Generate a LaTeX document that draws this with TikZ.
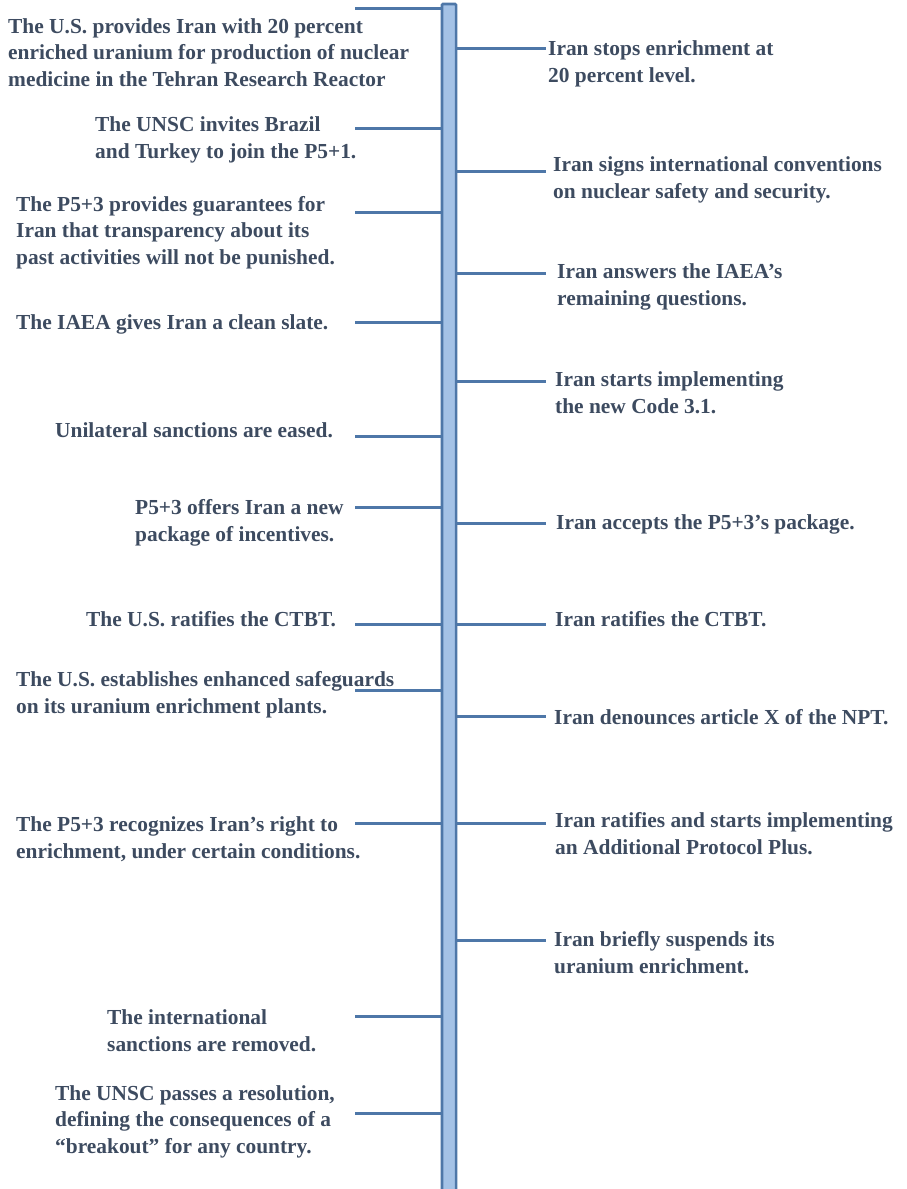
\documentclass[tikz,border=0pt]{standalone}
\usepackage{fontspec}
\setmainfont{Liberation Serif}
\definecolor{txt}{HTML}{3D4B60}
\definecolor{ln}{HTML}{4E77A8}
\definecolor{barfill}{HTML}{A4C2E6}
\begin{document}
\begin{tikzpicture}[x=1pt,y=-1pt,
  lbl/.style={anchor=base west,align=left,inner sep=0pt,text=txt,
    font=\bfseries\fontsize{21.4}{26.5}\selectfont},
  tick/.style={draw=ln,line width=3pt}]
\useasboundingbox (0,0) rectangle (907,1189);
\node[draw=ln,line width=2.6pt,fill=barfill,minimum width=11.5pt,minimum height=1200pt,
  anchor=north,inner sep=0pt,rounded corners=1pt] (bar) at (449,4) {};
% left ticks
\foreach \n/\y in {a/8,b/128,c/212,d/322,e/436,f/507,g/624,h/690,i/823,j/1016,k/1113}{
  \coordinate (l\n) at (355,\y);
  \draw[tick] (l\n) -- (l\n -| bar.west);
}
% right ticks
\foreach \n/\y in {a/48,b/171,c/273,d/381,e/523,f/624,g/716,h/823,i/940}{
  \coordinate (r\n) at (546,\y);
  \draw[tick] (r\n -| bar.east) -- (r\n);
}
% redraw bar on top
\draw[draw=ln,line width=2.6pt,fill=barfill,rounded corners=1pt] (bar.north west) rectangle (bar.south east);
% left texts (anchor = baseline of last line)
\node[lbl] (L1) at (8,86) {The U.S. provides Iran with 20 percent\\enriched uranium for production of nuclear\\medicine in the Tehran Research Reactor};
\node[lbl] (L2) at (95,158) {The UNSC invites Brazil\\and Turkey to join the P5+1.};
\node[lbl] (L3) at (16,264) {The P5+3 provides guarantees for\\Iran that transparency about its\\past activities will not be punished.};
\node[lbl] (L4) at (16,329) {The IAEA gives Iran a clean slate.};
\node[lbl] (L5) at (55,437) {Unilateral sanctions are eased.};
\node[lbl] (L6) at (135,541) {P5+3 offers Iran a new\\package of incentives.};
\node[lbl] (L7) at (86,626) {The U.S. ratifies the CTBT.};
\node[lbl] (L8) at (16,713) {The U.S. establishes enhanced safeguards\\on its uranium enrichment plants.};
\node[lbl] (L9) at (16,858) {The P5+3 recognizes Iran’s right to\\enrichment, under certain conditions.};
\node[lbl] (L10) at (107,1051) {The international\\sanctions are removed.};
\node[lbl] (L11) at (55,1153) {The UNSC passes a resolution,\\defining the consequences of a\\“breakout” for any country.};
% right texts
\node[lbl] (R1) at (548,82) {Iran stops enrichment at\\20 percent level.};
\node[lbl] (R2) at (553,198) {Iran signs international conventions\\on nuclear safety and security.};
\node[lbl] (R3) at (557,305) {Iran answers the IAEA’s\\remaining questions.};
\node[lbl] (R4) at (555,413) {Iran starts implementing\\the new Code 3.1.};
\node[lbl] (R5) at (556,529) {Iran accepts the P5+3’s package.};
\node[lbl] (R6) at (555,626) {Iran ratifies the CTBT.};
\node[lbl] (R7) at (554,724) {Iran denounces article X of the NPT.};
\node[lbl] (R8) at (555,854) {Iran ratifies and starts implementing\\an Additional Protocol Plus.};
\node[lbl] (R9) at (554,973) {Iran briefly suspends its\\uranium enrichment.};
\end{tikzpicture}
\end{document}
